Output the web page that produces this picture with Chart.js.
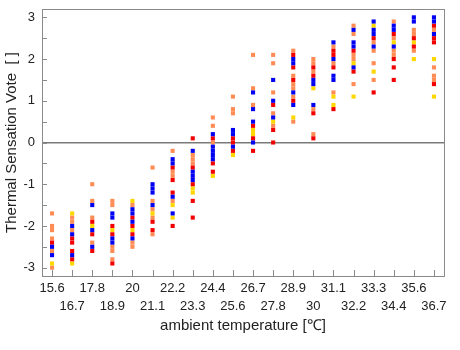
<!DOCTYPE html>
<html>
<head>
<meta charset="utf-8">
<script src="https://cdn.jsdelivr.net/npm/chart.js@4"></script>
<style>
  html, body { margin: 0; padding: 0; background: #fff; }
  #wrap { width: 460px; height: 350px; }
</style>
</head>
<body>
<div id="wrap"><canvas id="chart"></canvas></div>
<script>
const temps = ['15.6', '16.7', '17.8', '18.9', '20', '21.1', '22.2', '23.3', '24.4', '25.6',
               '26.7', '27.8', '28.9', '30', '31.1', '32.2', '33.3', '34.4', '35.6', '36.7'];
const yTicks = [-3, -2.5, -2, -1.5, -1, -0.5, 0, 0.5, 1, 1.5, 2, 2.5, 3];

// votes per temperature column, one array per colour
const orangeVotes = [
    [-1.7, -2.0, -2.1, -2.3, -2.6, -3.0], [-1.8, -1.9, -2.1], [-1.0, -1.4, -1.8, -2.4], [-1.4, -1.5, -2.5, -2.6, -2.8],
    [-1.5, -2.4, -2.5], [-0.6, -1.4, -1.6, -1.8, -2.2], [-0.2, -0.7, -0.8, -1.4], [-0.3, -0.4, -0.5],
    [0.6, 0.4, 0], [1.1, 0.8, 0.7], [2.1, 1.3, 0.9], [2.1, 1.9, 1.2, 0.7, 0.4],
    [2.2, 1.6, 1.4, 1.3, 1.1, 0.5], [2.0, 1.9, 1.7, 0.8, 0.2], [2.3, 1.9, 1.2], [2.8, 2.6, 2.1, 2.0, 1.4],
    [2.4, 2.2, 1.9, 1.5], [2.9, 2.5, 2.2, 2.1], [2.7, 2.6, 2.2], [2.7, 1.8, 1.6, 1.5]
];
const redVotes = [
    [-2.4], [-2.3, -2.4, -2.6, -2.8], [-1.9, -2.2, -2.6], [-2.0, -2.2, -2.9],
    [-1.8, -2.0, -2.2], [-1.9, -2.1], [-0.6, -0.9, -1.2, -2.0], [0.1, -0.6, -1.0, -1.4, -1.8],
    [0.1, -0.5, -0.7], [0.1, 0, -0.2], [0.4, 0.1, -0.2], [0.9, 0.3, 0],
    [2.1, 1.8, 1.5, 1.0], [1.8, 1.6, 0.7, 0.1], [2.2, 2.1, 1.8, 0.8], [2.2, 1.7],
    [2.5, 1.2], [2.6, 2.0, 1.8, 1.5], [2.5, 2.3], [2.8, 2.5, 2.4, 1.4]
];
const blueVotes = [
    [-2.5, -2.7], [-2.0, -2.2, -2.7], [-1.5, -2.1, -2.5], [-1.7, -1.8, -2.3, -2.4],
    [-1.6, -1.7, -1.9, -2.3], [-1.0, -1.1, -1.2, -1.5], [-0.4, -0.5, -1.3, -1.7], [-0.2, -0.7, -0.8, -0.9],
    [0.2, -0.1, -0.2, -0.3, -0.4], [0.3, 0.2, -0.1], [1.2, 0.8, 0.5, 0], [1.5, 1.0, 0.6],
    [2.0, 1.9, 1.2, 0.9], [1.5, 1.4, 0.9], [2.4, 2.0, 1.6, 1.5], [2.7, 2.4, 2.3, 1.8],
    [2.9, 2.7, 2.6, 2.3], [2.8, 2.7, 2.3], [3.0, 2.9], [3.0, 2.9, 2.6]
];
const yellowVotes = [
    [-2.9], [-1.7, -2.9], [-2.0], [-2.1],
    [-1.4, -2.1], [-1.7], [-1.5, -1.8], [-1.1, -1.2],
    [-0.8], [-0.3], [0.3, 0.2], [0.5],
    [0.6], [1.3], [1.1, 0.9], [1.9, 1.1],
    [2.8, 1.7], [2.4], [2.4, 2.0], [2.0, 1.1]
];

function toPoints(cols) {
    return cols.flatMap((vals, i) => vals.map(v => ({ x: temps[i], y: v })));
}

function series(label, cols, color) {
    return {
        label,
        data: toPoints(cols),
        backgroundColor: color,
        borderColor: color,
        borderWidth: 0,
        pointStyle: 'rect',
        pointRadius: 2.9,
        pointHoverRadius: 2.9
    };
}

// frame and inward tick marks like the original plot
const frameTicks = {
    id: 'frameTicks',
    afterDraw(chart) {
        const { ctx, chartArea: a, scales } = chart;
        ctx.save();
        ctx.strokeStyle = '#8a8a8a';
        ctx.lineWidth = 1;
        ctx.beginPath();
        scales.y.ticks.forEach(t => {
            const y = Math.round(scales.y.getPixelForValue(t.value)) + 0.5;
            ctx.moveTo(a.left, y);
            ctx.lineTo(a.left + 5, y);
        });
        temps.forEach((t, i) => {
            const x = Math.round(scales.x.getPixelForValue(i)) + 0.5;
            ctx.moveTo(x, a.bottom);
            ctx.lineTo(x, a.bottom - 6);
        });
        ctx.stroke();
        ctx.strokeRect(Math.round(a.left) + 0.5, Math.round(a.top) + 0.5,
                       Math.round(a.right - a.left), Math.round(a.bottom - a.top));
        ctx.restore();
    }
};

const font = 'Liberation Sans, Arial, sans-serif';

new Chart(document.getElementById('chart'), {
    type: 'scatter',
    data: {
        labels: temps,
        datasets: [
            series('blue', blueVotes, '#0000f2'),
            series('red', redVotes, '#f20000'),
            series('yellow', yellowVotes, '#ffd700'),
            series('orange', orangeVotes, '#ff8c55')
        ]
    },
    options: {
        responsive: true,
        maintainAspectRatio: false,
        animation: false,
        events: [],
        layout: { padding: { top: 9, right: 16, left: 0, bottom: 0 } },
        plugins: { legend: { display: false }, tooltip: { enabled: false } },
        scales: {
            x: {
                type: 'category',
                labels: temps,
                offset: true,
                afterFit(scale) { scale.height = 74; },
                grid: { display: false },
                border: { display: false },
                ticks: {
                    autoSkip: false,
                    maxRotation: 0,
                    padding: -5,
                    color: '#222',
                    font: { family: font, size: 13, lineHeight: 1.42 },
                    callback(value, index) {
                        const label = this.getLabelForValue(value);
                        return index % 2 ? ['', label] : [label];
                    }
                },
                title: {
                    display: true,
                    text: 'ambient temperature [℃]',
                    color: '#222',
                    font: { family: font, size: 15 },
                    padding: { top: 0, bottom: 15 }
                }
            },
            y: {
                min: -3.2,
                max: 3.2,
                afterFit(scale) {
                    scale.width = 42;
                    scale.paddingTop = 0;
                    scale.paddingBottom = 0;
                },
                afterBuildTicks(scale) { scale.ticks = yTicks.map(v => ({ value: v })); },
                grid: {
                    drawTicks: false,
                    lineWidth: 1.5,
                    color: c => (c.tick && c.tick.value === 0 ? '#7a7a7a' : 'rgba(0,0,0,0)')
                },
                border: { display: false },
                ticks: {
                    padding: 7,
                    color: '#222',
                    font: { family: font, size: 13 },
                    callback: v => (Number.isInteger(v) ? String(v) : '')
                },
                title: {
                    display: true,
                    text: 'Thermal Sensation Vote  [ ]',
                    color: '#222',
                    font: { family: font, size: 15 },
                    padding: { top: 3, bottom: 0 }
                }
            }
        }
    },
    plugins: [frameTicks]
});
</script>
</body>
</html>
